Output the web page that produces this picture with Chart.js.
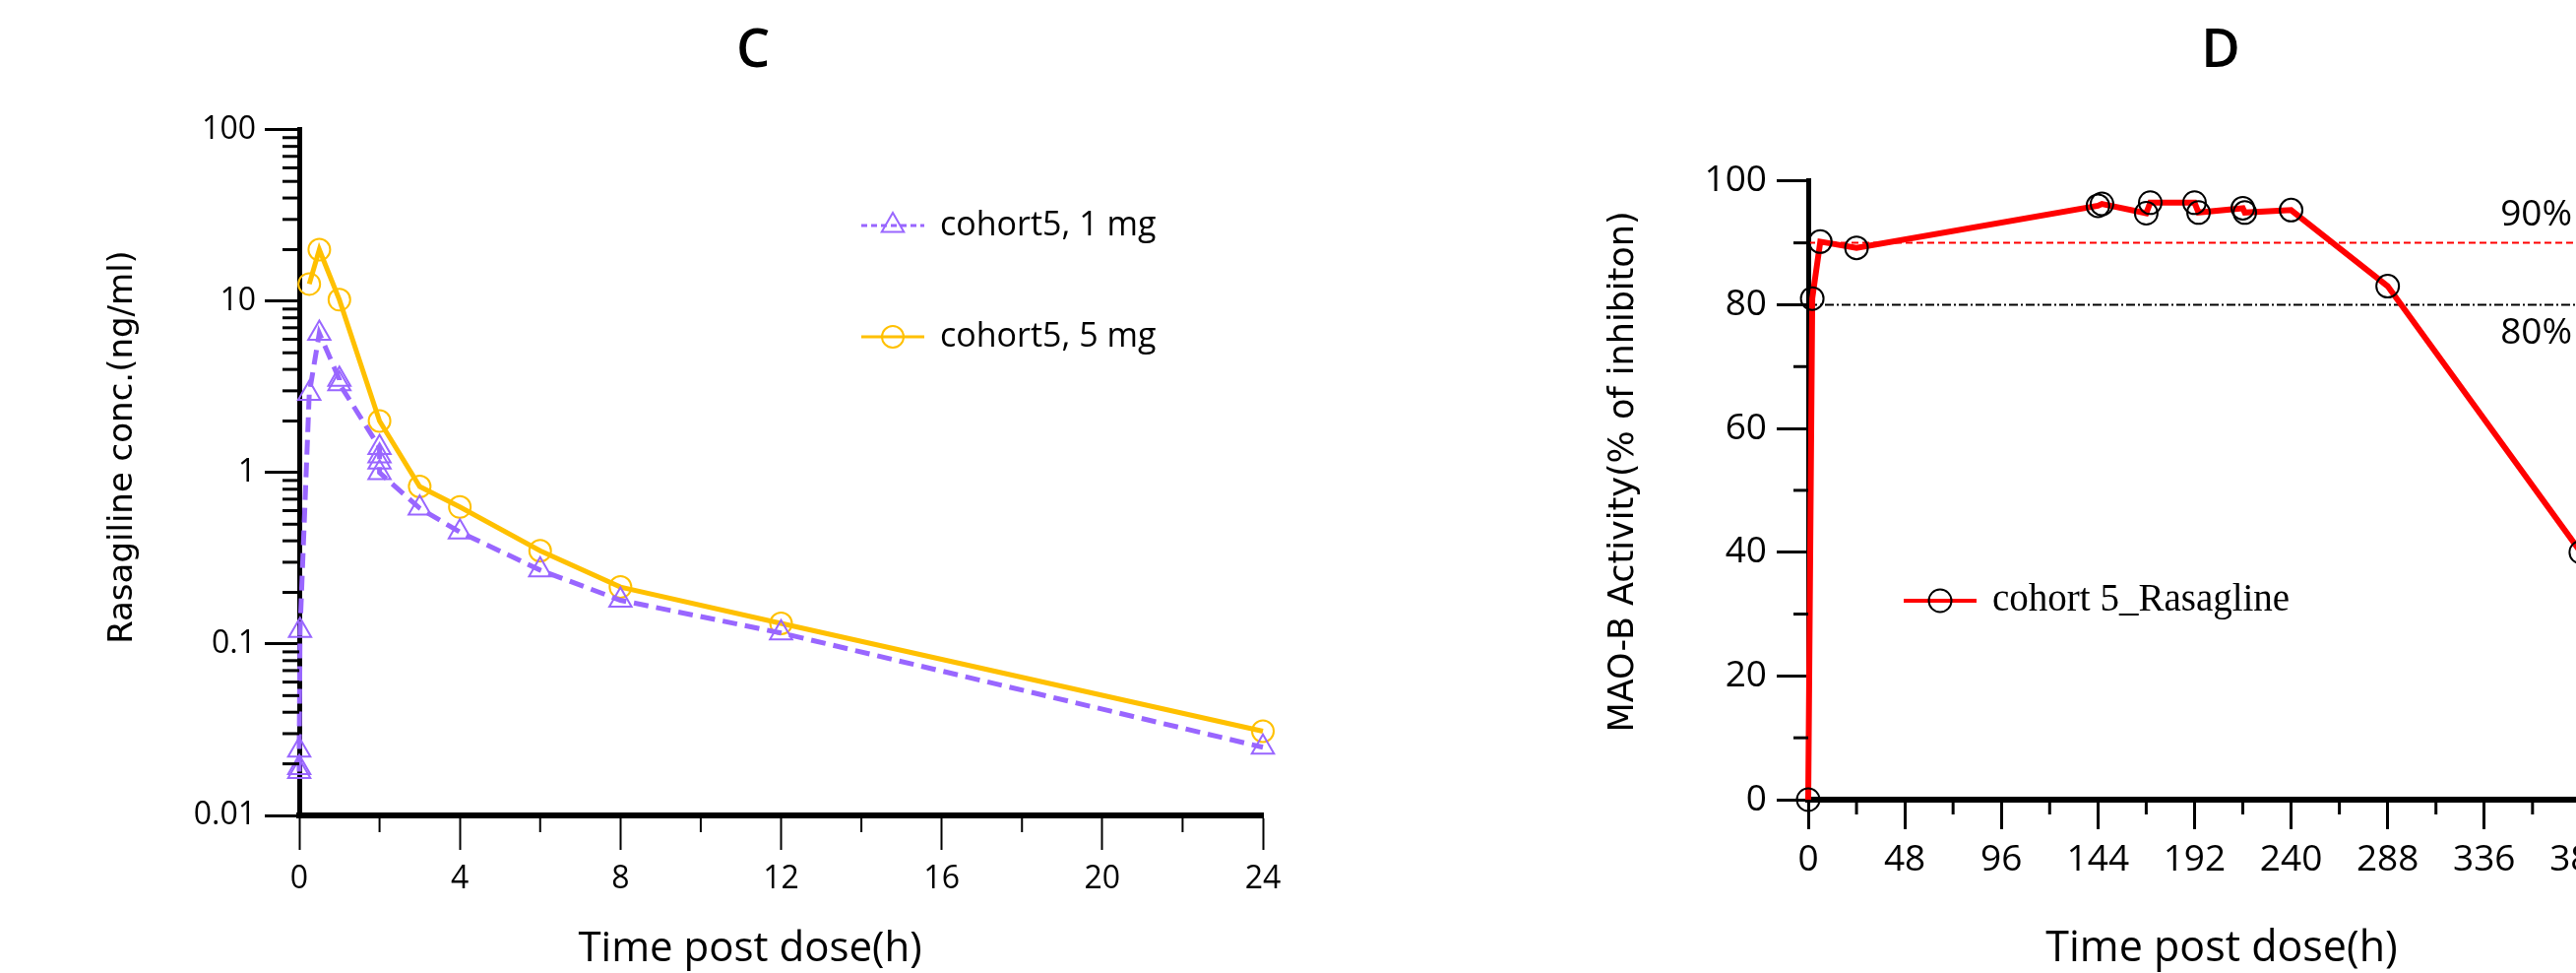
<!DOCTYPE html>
<html>
<head>
<meta charset="utf-8">
<script src="https://cdn.jsdelivr.net/npm/chart.js@4.4.1/dist/chart.umd.min.js"></script>
<style>
  html, body { margin: 0; padding: 0; background: #fff; overflow: hidden; }
  #wrap { position: relative; width: 2617px; height: 988px; overflow: hidden; }
  #chartC { position: absolute; left: 0; top: 0; }
  #chartD { position: absolute; left: 1530px; top: 0; }
</style>
</head>
<body>
<div id="wrap">
  <canvas id="chartC" width="1530" height="988"></canvas>
  <canvas id="chartD" width="1452" height="988"></canvas>
</div>
<script>
// ---- panel C: plasma concentration (log scale)
const timeC1 = [0, 0, 0, 0.02, 0.25, 0.5, 1, 1, 2, 2, 2, 2, 3, 4, 6, 8, 12, 24];
const concC1 = [0.018, 0.019, 0.024, 0.12, 2.9, 6.5, 3.5, 3.3, 1.4, 1.25, 1.15, 1.0, 0.62, 0.45, 0.27, 0.18, 0.116, 0.025];
const timeC5 = [0.25, 0.5, 1, 2, 3, 4, 6, 8, 12, 24];
const concC5 = [12.6, 20, 10.2, 2.0, 0.83, 0.63, 0.35, 0.215, 0.132, 0.031];
const labelsC = ['cohort5, 1 mg', 'cohort5, 5 mg'];
const decadesC = [0.01, 0.1, 1, 10, 100];
const minorXC = [2, 6, 10, 14, 18, 22];

// ---- panel D: MAO-B inhibition
const timeD = [0, 2, 6, 24, 144, 146, 168, 170, 192, 194, 216, 217, 240, 288, 384];
const inhD = [0, 81, 90.2, 89.2, 96.0, 96.3, 94.8, 96.5, 96.5, 94.9, 95.6, 94.9, 95.3, 83, 40];
const labelD = 'cohort 5_Rasagline';
const refLevels = [90, 80];
const refTexts = ['90%', '80%'];
const minorXD = [24, 72, 120, 168, 216, 264, 312, 360, 408];
const minorYD = [10, 30, 50, 70, 90];

const minorYC = [];
decadesC.slice(0, -1).forEach(d => { for (let k = 2; k <= 9; k++) minorYC.push(+(d * k).toPrecision(2)); });

Chart.defaults.font.family = 'Open Sans';
Chart.defaults.color = '#000';

const purple = '#9966ff';
const gold = '#ffc000';
const red = '#ff0000';

function drawMarker(ctx, style, r, x, y) {
  if (Chart.helpers && Chart.helpers.drawPoint) {
    Chart.helpers.drawPoint(ctx, {pointStyle: style, radius: r, rotation: 0, borderWidth: ctx.lineWidth}, x, y);
    return;
  }
  ctx.beginPath();
  if (style === 'triangle') {
    for (let i = 0; i < 3; i++) {
      const a = i * 2 * Math.PI / 3;
      ctx.lineTo(x + Math.sin(a) * r, y - Math.cos(a) * r);
    }
    ctx.closePath();
  } else {
    ctx.arc(x, y, r, 0, 2 * Math.PI);
  }
  ctx.stroke();
}

// minor ticks, axis titles, in-plot legend and reference labels
const extras = {
  id: 'extras',
  afterDraw(chart, args, opts) {
    const ctx = chart.ctx;
    ctx.save();
    (opts.minor || []).forEach(m => {
      const s = chart.scales[m.axis];
      ctx.strokeStyle = '#000';
      ctx.lineWidth = m.width;
      m.values.forEach(v => {
        const p = s.getPixelForValue(v);
        ctx.beginPath();
        if (s.isHorizontal()) { ctx.moveTo(p, s.top); ctx.lineTo(p, s.top + m.length); }
        else { ctx.moveTo(s.right, p); ctx.lineTo(s.right - m.length, p); }
        ctx.stroke();
      });
    });
    (opts.titles || []).forEach(t => {
      ctx.save();
      ctx.font = t.font;
      ctx.fillStyle = '#000';
      ctx.textAlign = 'center';
      ctx.textBaseline = 'middle';
      ctx.translate(t.x, t.y);
      ctx.rotate(t.rotate || 0);
      ctx.fillText(t.text, 0, 0);
      ctx.restore();
    });
    const lg = opts.legend;
    if (lg) {
      ctx.font = lg.font;
      ctx.textBaseline = 'middle';
      ctx.textAlign = 'left';
      lg.items.forEach((idx, i) => {
        const ds = chart.data.datasets[idx];
        const y = lg.y + i * lg.gap;
        ctx.strokeStyle = ds.borderColor;
        ctx.lineWidth = lg.lineWidth;
        ctx.setLineDash(ds.borderDash ? lg.dash : []);
        ctx.beginPath();
        ctx.moveTo(lg.x, y);
        ctx.lineTo(lg.x + lg.sample, y);
        ctx.stroke();
        ctx.setLineDash([]);
        ctx.strokeStyle = ds.pointBorderColor;
        ctx.fillStyle = 'rgba(0,0,0,0)';
        ctx.lineWidth = ds.pointBorderWidth;
        drawMarker(ctx, ds.pointStyle, ds.pointRadius, lg.x + lg.sample / 2, y);
        ctx.fillStyle = '#000';
        ctx.fillText(ds.label, lg.x + lg.sample + lg.textGap, y);
      });
    }
    (opts.refs || []).forEach(r => {
      ctx.font = r.font;
      ctx.fillStyle = '#000';
      ctx.textBaseline = 'middle';
      ctx.textAlign = 'left';
      ctx.fillText(r.text, chart.scales.x.getPixelForValue(r.x), chart.scales.y.getPixelForValue(r.y) + r.dy);
    });
    ctx.restore();
  }
};

const pts = (xs, ys) => xs.map((x, i) => ({x: x, y: ys[i]}));
const majorGrid = (len, w) => ({display: true, drawOnChartArea: false, drawTicks: true, tickLength: len, tickWidth: w, tickColor: '#000', color: '#000'});
const dummyRight = w => ({position: 'right', display: true, grid: {display: false}, border: {display: false}, ticks: {display: false}, afterFit: s => { s.width = w; }});

new Chart(document.getElementById('chartC'), {
  type: 'line',
  data: {
    datasets: [{
      label: labelsC[0],
      data: pts(timeC1, concC1),
      borderColor: purple,
      borderWidth: 5,
      borderDash: [15, 8],
      pointStyle: 'triangle',
      pointRadius: 13,
      pointBorderWidth: 2,
      pointBorderColor: purple,
      pointBackgroundColor: 'rgba(0,0,0,0)',
      tension: 0,
      clip: false
    }, {
      label: labelsC[1],
      data: pts(timeC5, concC5),
      borderColor: gold,
      borderWidth: 5,
      pointStyle: 'circle',
      pointRadius: 11,
      pointBorderWidth: 2,
      pointBorderColor: gold,
      pointBackgroundColor: 'rgba(0,0,0,0)',
      tension: 0,
      clip: false
    }]
  },
  options: {
    responsive: false,
    animation: false,
    devicePixelRatio: 1,
    plugins: {
      legend: {display: false},
      tooltip: {enabled: false},
      title: {display: true, text: 'C', font: {size: 54, weight: '600'}, padding: {top: 20, bottom: 47}},
      extras: {
        minor: [
          {axis: 'x', values: minorXC, length: 17, width: 2},
          {axis: 'y', values: minorYC, length: 17, width: 3}
        ],
        titles: [
          {text: 'Time post dose(h)', x: 762, y: 964, font: '42px "Open Sans"'},
          {text: 'Rasagiline conc.(ng/ml)', x: 125, y: 454, rotate: -Math.PI / 2, font: '34px "DejaVu Sans"'}
        ],
        legend: {items: [0, 1], x: 875, y: 229, gap: 113, sample: 64, textGap: 16, lineWidth: 3, dash: [6, 4], font: '34px "Open Sans"'}
      }
    },
    scales: {
      x: {
        type: 'linear', min: 0, max: 24,
        ticks: {stepSize: 4, padding: 11, font: {size: 32}},
        grid: majorGrid(35, 2),
        border: {display: true, color: '#000', width: 6},
        afterFit: s => { s.height = 160; }
      },
      y: {
        type: 'logarithmic', min: 0.01, max: 100,
        afterBuildTicks: s => { s.ticks = decadesC.map(v => ({value: v})); },
        ticks: {padding: 9, font: {size: 32}, callback: v => String(v)},
        grid: majorGrid(35, 3),
        border: {display: true, color: '#000', width: 5},
        afterFit: s => { s.width = 304; }
      },
      yR: dummyRight(247)
    }
  },
  plugins: [extras]
});

new Chart(document.getElementById('chartD'), {
  type: 'line',
  data: {
    datasets: [{
      label: labelD,
      data: pts(timeD, inhD),
      borderColor: red,
      borderWidth: 6,
      pointStyle: 'circle',
      pointRadius: 11.5,
      pointBorderWidth: 2,
      pointBorderColor: '#000',
      pointBackgroundColor: 'rgba(0,0,0,0)',
      tension: 0,
      clip: false
    }, {
      label: refTexts[0],
      data: [{x: 0, y: refLevels[0]}, {x: 432, y: refLevels[0]}],
      borderColor: red,
      borderWidth: 2,
      borderDash: [7, 4],
      pointRadius: 0
    }, {
      label: refTexts[1],
      data: [{x: 0, y: refLevels[1]}, {x: 432, y: refLevels[1]}],
      borderColor: '#000',
      borderWidth: 2,
      borderDash: [9, 3, 2, 3],
      pointRadius: 0
    }]
  },
  options: {
    responsive: false,
    animation: false,
    devicePixelRatio: 1,
    plugins: {
      legend: {display: false},
      tooltip: {enabled: false},
      title: {display: true, text: 'D', font: {size: 54, weight: '600'}, padding: {top: 20, bottom: 99}},
      extras: {
        minor: [
          {axis: 'x', values: minorXD, length: 15, width: 3},
          {axis: 'y', values: minorYD, length: 15, width: 3}
        ],
        titles: [
          {text: 'Time post dose(h)', x: 727, y: 964, font: '43px "Open Sans"'},
          {text: 'MAO-B Activity(% of inhibiton)', x: 120, y: 479, rotate: -Math.PI / 2, font: '35px "DejaVu Sans"'}
        ],
        legend: {items: [0], x: 404, y: 610, gap: 0, sample: 74, textGap: 16, lineWidth: 4, dash: [], font: '39px "Liberation Serif"'},
        refs: [
          {text: refTexts[0], x: 344, y: refLevels[0], dy: -28, font: '37px "Open Sans"'},
          {text: refTexts[1], x: 344, y: refLevels[1], dy: 29, font: '37px "Open Sans"'}
        ]
      }
    },
    scales: {
      x: {
        type: 'linear', min: 0, max: 432,
        ticks: {stepSize: 48, padding: 9, font: {size: 37}},
        grid: majorGrid(30, 3),
        border: {display: true, color: '#000', width: 6},
        afterFit: s => { s.height = 176; }
      },
      y: {
        type: 'linear', min: 0, max: 100,
        ticks: {stepSize: 20, padding: 10, font: {size: 37}},
        grid: majorGrid(32, 3),
        border: {display: true, color: '#000', width: 5},
        afterFit: s => { s.width = 307; }
      },
      yR: dummyRight(262)
    }
  },
  plugins: [extras]
});
</script>
</body>
</html>
